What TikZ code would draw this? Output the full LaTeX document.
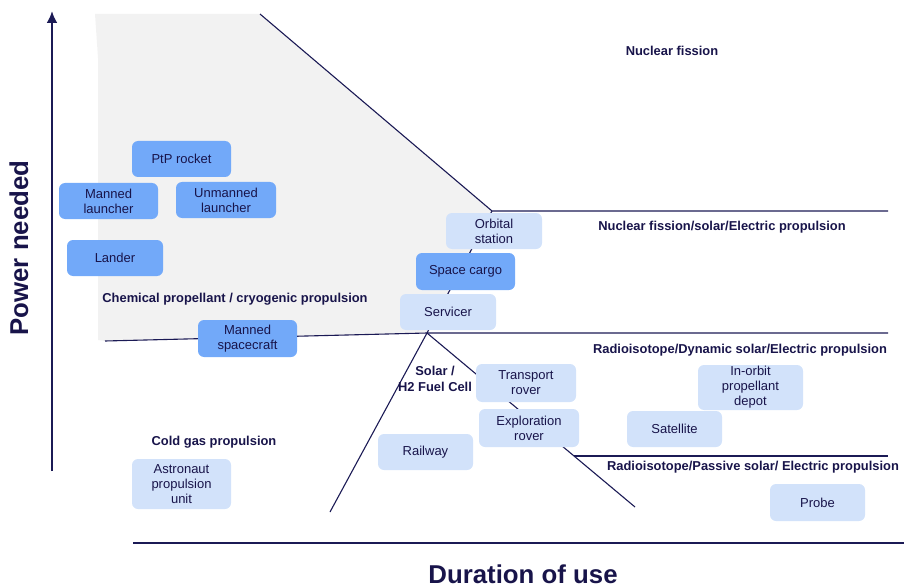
\documentclass[tikz,border=0pt]{standalone}
\usepackage{fontspec}
\setmainfont{Liberation Sans}
\usetikzlibrary{arrows.meta}
\definecolor{navy}{HTML}{1B1A55}
\definecolor{txt}{HTML}{18144A}
\definecolor{darkbox}{HTML}{72A9F9}
\definecolor{lightbox}{HTML}{D2E2FA}
\definecolor{grayzone}{HTML}{F2F2F2}
\tikzset{
  box/.style={rounded corners=6pt, inner sep=0pt, outer sep=0pt, anchor=north west,
    align=center, text=txt, font=\fontsize{13}{15}\selectfont},
  dbox/.style={box, fill=darkbox},
  lbox/.style={box, fill=lightbox},
  zone/.style={font=\bfseries\fontsize{12.9}{16}\selectfont, text=txt, align=center, inner sep=0pt},
  bound/.style={draw=navy, line width=1.1pt},
  axis/.style={draw=navy, line width=2.6pt},
  axlabel/.style={font=\bfseries\fontsize{25.8}{30}\selectfont, text=txt, inner sep=0pt}
}
\begin{document}
\begin{tikzpicture}[x=1pt, y=-1pt]
\useasboundingbox (0,0) rectangle (904,588);
% key points
\coordinate (gtl) at (95,14);
\coordinate (gtr) at (260,14);
\coordinate (knee) at (492,211);
\coordinate (hub) at (427,333);
\coordinate (gbl) at (98,340);
\coordinate (gml) at (98,58);
\coordinate (lineL) at (105,341);
\coordinate (rightA) at (888,211);
\coordinate (rightB) at (888,333);
\coordinate (downL) at (330,512);
\coordinate (downR) at (635,507);
\coordinate (passL) at (574,456);
\coordinate (passR) at (888,456);
\coordinate (yaxB) at (52,471);
\coordinate (yaxT) at (52,11);
\coordinate (xaxL) at (133,543);
\coordinate (xaxR) at (904,543);
% gray zone
\fill[grayzone] (gtl) -- (gtr) -- (knee) -- (hub) -- (lineL) -- (gbl) -- (gml) -- cycle;
% boundaries
\draw[bound] (gtr) -- (knee) -- (rightA);
\draw[bound] (knee) -- (hub);
\draw[bound] (lineL) -- (hub) -- (rightB);
\draw[bound] (hub) -- (downL);
\draw[bound] (hub) -- (downR);
\draw[bound] (passL) -- (passR);
% axes
\draw[axis, -{Latex[length=12pt,width=11pt]}] (yaxB) -- (yaxT);
\draw[axis] (xaxL) -- (xaxR);
\node[axlabel, rotate=90] (ylab) at (19,248) {Power needed};
\node[axlabel, anchor=base] (xlab) at (523,583) {Duration of use};
% dark boxes
\node[dbox, minimum width=99pt, minimum height=36pt] (ptp) at (132,141) {PtP rocket};
\node[dbox, minimum width=99pt, minimum height=36pt] (mlaunch) at (59,183) {Manned\\launcher};
\node[dbox, minimum width=100pt, minimum height=36pt] (ulaunch) at (176,182) {Unmanned\\launcher};
\node[dbox, minimum width=96pt, minimum height=36pt] (lander) at (67,240) {Lander};
\node[dbox, minimum width=99pt, minimum height=37pt] (mspace) at (198,320) {Manned\\spacecraft};
\node[dbox, minimum width=99pt, minimum height=37pt] (cargo) at (416,253) {Space cargo};
% light boxes
\node[lbox, minimum width=96pt, minimum height=36pt] (orbital) at (446,213) {Orbital\\station};
\node[lbox, minimum width=96pt, minimum height=36pt] (servicer) at (400,294) {Servicer};
\node[lbox, minimum width=100pt, minimum height=38pt] (trover) at (476,364) {Transport\\rover};
\node[lbox, minimum width=100pt, minimum height=38pt] (erover) at (479,409) {Exploration\\rover};
\node[lbox, minimum width=95pt, minimum height=36pt] (railway) at (378,434) {Railway};
\node[lbox, minimum width=105pt, minimum height=45pt] (depot) at (698,365) {In-orbit\\propellant\\depot};
\node[lbox, minimum width=95pt, minimum height=36pt] (satellite) at (627,411) {Satellite};
\node[lbox, minimum width=95pt, minimum height=37pt] (probe) at (770,484) {Probe};
\node[lbox, minimum width=99pt, minimum height=50pt] (apu) at (132,459) {Astronaut\\propulsion\\unit};
% zone labels
\node[zone] (zfission) at (672,51) {Nuclear fission};
\node[zone] (zfse) at (722,227) {Nuclear fission/solar/Electric propulsion};
\node[zone] (zchem) at (235,299) {Chemical propellant / cryogenic propulsion};
\node[zone] (zrdse) at (740,350) {Radioisotope/Dynamic solar/Electric propulsion};
\node[zone] (zrpse) at (753,467) {Radioisotope/Passive solar/ Electric propulsion};
\node[zone] (zcold) at (214,442) {Cold gas propulsion};
\node[zone] (zsolar) at (435,379) {Solar /\\H2 Fuel Cell};
\end{tikzpicture}
\end{document}
